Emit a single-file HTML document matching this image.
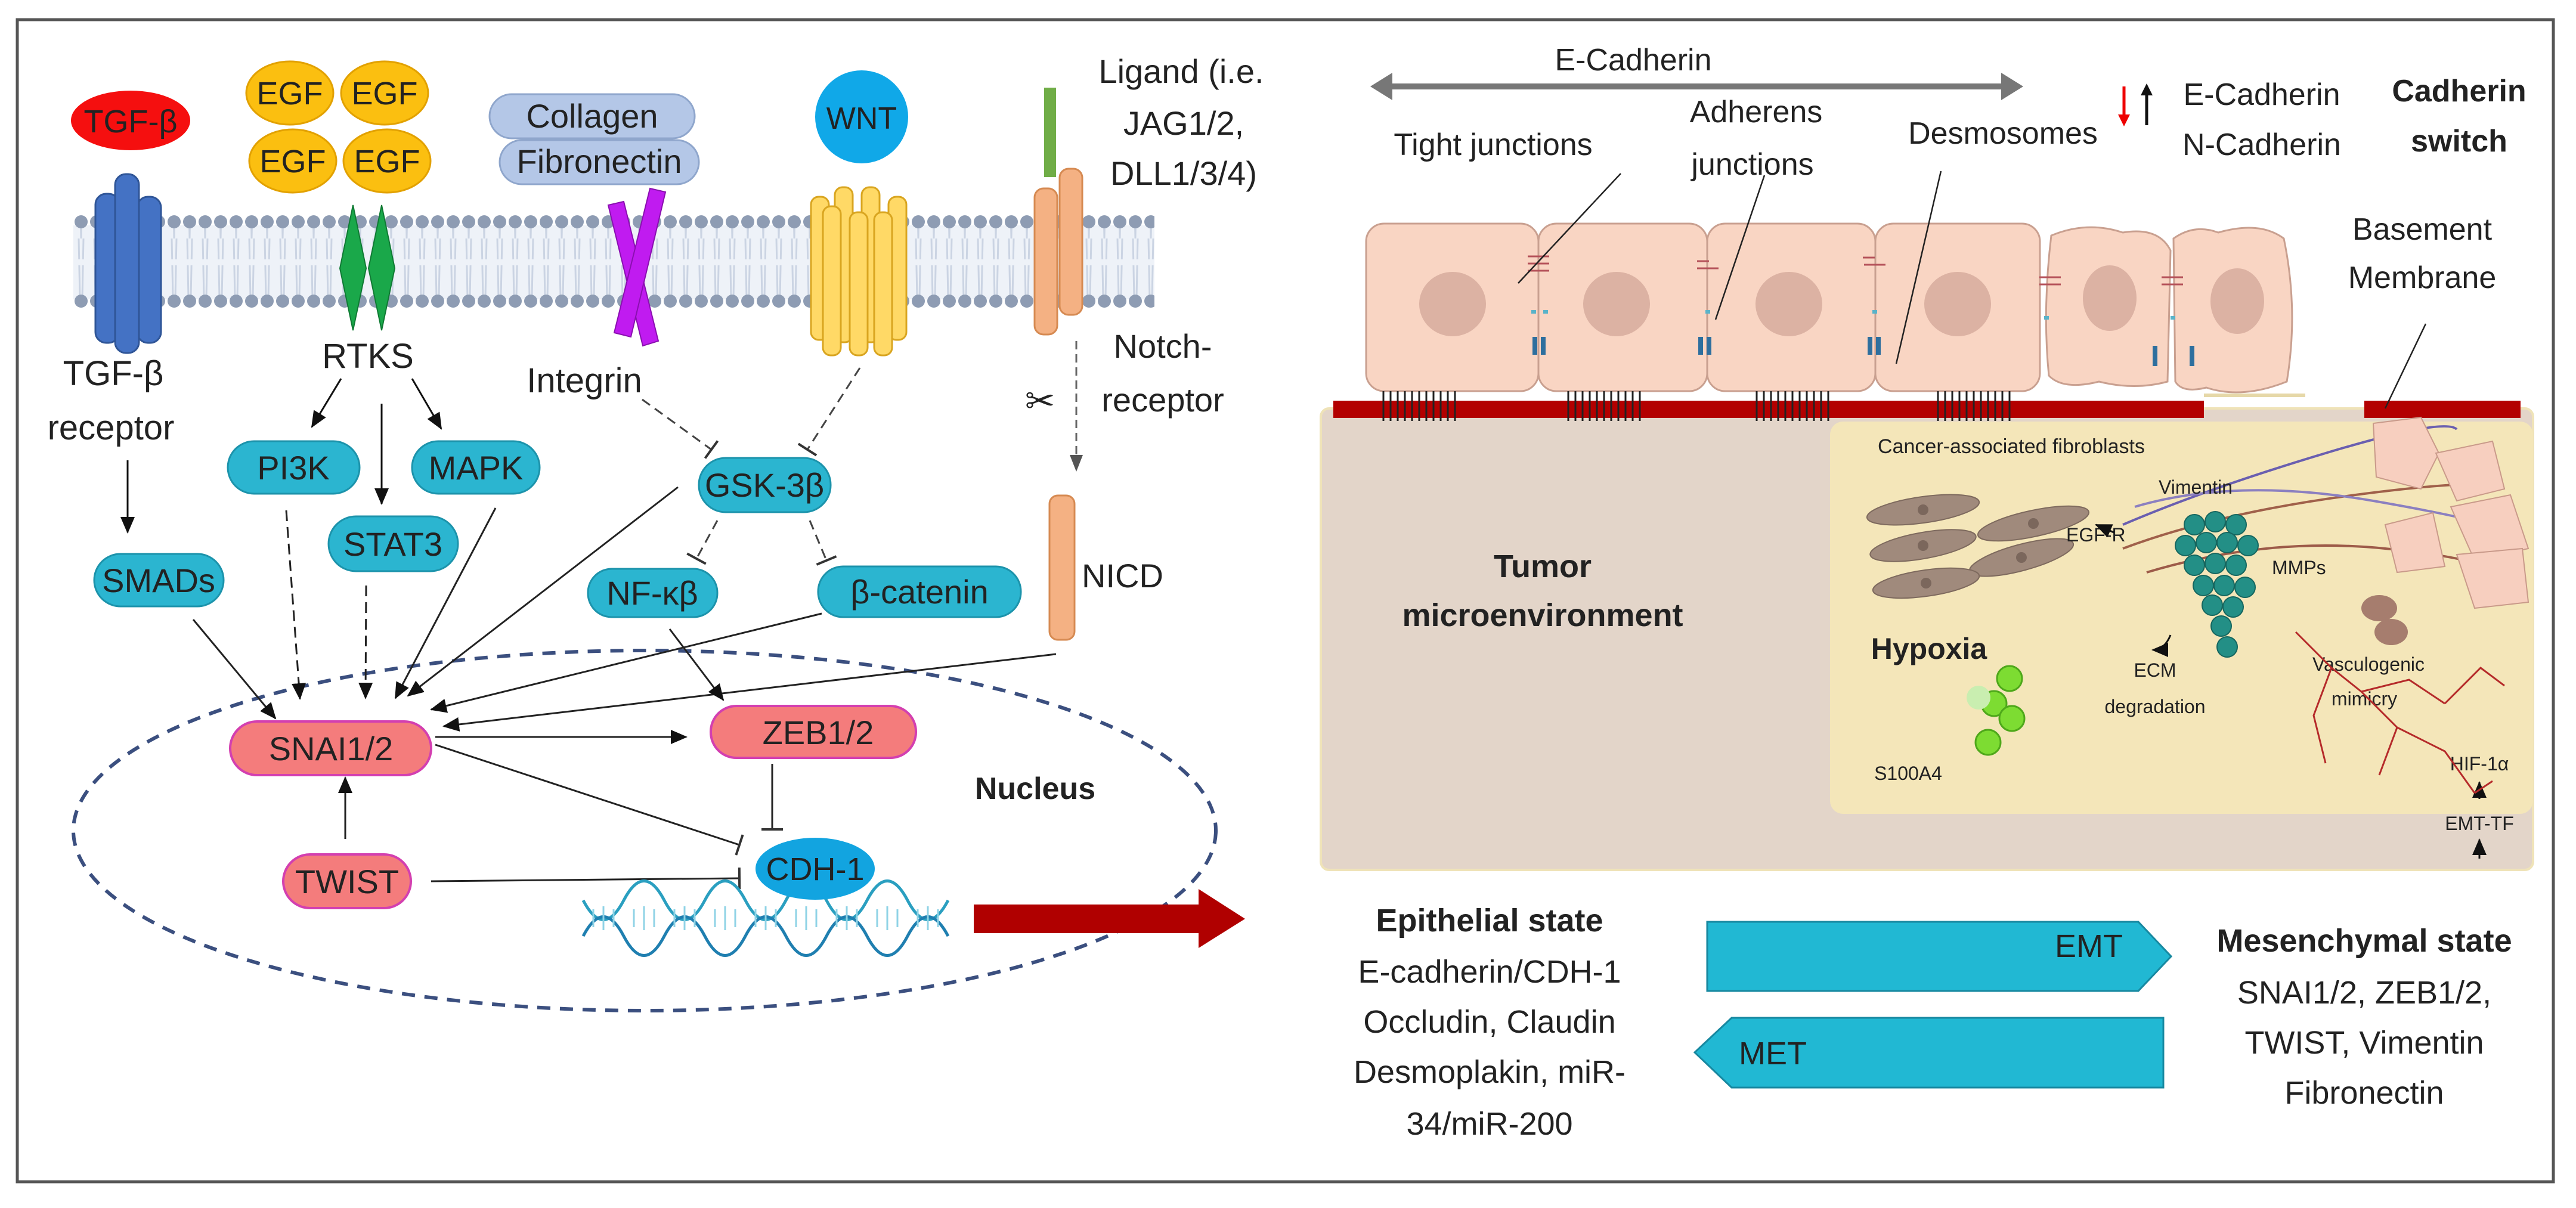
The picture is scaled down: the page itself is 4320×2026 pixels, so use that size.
<!DOCTYPE html>
<html><head><meta charset="utf-8"><style>
html,body{margin:0;padding:0;background:#fff}
svg{display:block}
text{font-family:"Liberation Sans",sans-serif;fill:#222}
</style></head><body>
<svg xmlns="http://www.w3.org/2000/svg" width="4320" height="2026" viewBox="0 0 4320 2026">
<defs>
<marker id="ah" markerUnits="userSpaceOnUse" markerWidth="30" markerHeight="30" refX="26" refY="15" orient="auto"><path d="M0,3 L28,15 L0,27 Z" fill="#111"/></marker>
<marker id="ahg" markerUnits="userSpaceOnUse" markerWidth="30" markerHeight="30" refX="26" refY="15" orient="auto"><path d="M0,4 L28,15 L0,26 Z" fill="#555"/></marker>
<marker id="tb" markerUnits="userSpaceOnUse" markerWidth="8" markerHeight="36" refX="4" refY="18" orient="auto"><rect x="2" y="0" width="4" height="36" fill="#333"/></marker>
<pattern id="beads" x="123" y="0" width="26" height="2026" patternUnits="userSpaceOnUse">
<circle cx="13" cy="372" r="11" fill="#8e9cb3"/>
<circle cx="13" cy="505" r="11" fill="#8e9cb3"/>
</pattern>
<pattern id="tails" x="123" y="0" width="26" height="200" patternUnits="userSpaceOnUse">
<path d="M9,0 L13,200 M17,0 L13,200" stroke="#cbd4e3" stroke-width="3" fill="none"/>
</pattern>
</defs>
<rect x="0" y="0" width="4320" height="2026" fill="#fff"/>
<rect x="29" y="33" width="4253" height="1949" fill="none" stroke="#555" stroke-width="5"/>

<!-- membrane -->
<rect x="123" y="378" width="1813" height="124" fill="#eef2f8"/>
<rect x="123" y="380" width="1813" height="55" fill="url(#tails)"/>
<rect x="123" y="445" width="1813" height="55" fill="url(#tails)"/>
<rect x="123" y="355" width="1813" height="168" fill="url(#beads)"/>

<!-- TGF-beta -->
<ellipse cx="219" cy="202" rx="100" ry="50" fill="#f50f0f"/>
<text x="219" y="222" font-size="54" text-anchor="middle" fill="#5a0000">TGF-β</text>
<g fill="#4472c4" stroke="#2f5597" stroke-width="3">
<rect x="160" y="325" width="40" height="250" rx="18"/>
<rect x="230" y="330" width="40" height="245" rx="18"/>
<rect x="193" y="292" width="40" height="300" rx="18"/>
</g>
<text x="190" y="646" font-size="58" text-anchor="middle">TGF-β</text>
<text x="186" y="737" font-size="58" text-anchor="middle">receptor</text>
<line x1="214" y1="772" x2="214" y2="893" stroke="#111" stroke-width="3" marker-end="url(#ah)"/>

<!-- EGF -->
<g fill="#fbbf10" stroke="#e2a100" stroke-width="3">
<ellipse cx="486" cy="156" rx="73" ry="53"/><ellipse cx="645" cy="156" rx="73" ry="53"/>
<ellipse cx="491" cy="270" rx="73" ry="53"/><ellipse cx="649" cy="270" rx="73" ry="53"/>
</g>
<g font-size="54" text-anchor="middle"><text x="486" y="175">EGF</text><text x="645" y="175">EGF</text><text x="491" y="289">EGF</text><text x="649" y="289">EGF</text></g>
<g fill="#1aa84a" stroke="#0f7a33" stroke-width="2">
<path d="M592,344 L614,450 L592,554 L570,450 Z"/>
<path d="M640,344 L662,450 L640,554 L618,450 Z"/>
</g>
<text x="617" y="617" font-size="58" text-anchor="middle">RTKS</text>
<g stroke="#111" stroke-width="3">
<line x1="572" y1="635" x2="523" y2="716" marker-end="url(#ah)"/>
<line x1="640" y1="677" x2="640" y2="845" marker-end="url(#ah)"/>
<line x1="691" y1="635" x2="740" y2="719" marker-end="url(#ah)"/>
</g>

<!-- Collagen / Fibronectin -->
<rect x="838" y="235" width="334" height="74" rx="37" fill="#b4c7e7" stroke="#8fa6cc" stroke-width="3"/>
<rect x="821" y="158" width="344" height="74" rx="37" fill="#b4c7e7" stroke="#8fa6cc" stroke-width="3"/>
<text x="993" y="214" font-size="56" text-anchor="middle">Collagen</text>
<text x="1005" y="290" font-size="56" text-anchor="middle">Fibronectin</text>
<g stroke="#8a0fb0" stroke-width="2" fill="#c01bf0">
<path d="M1020,344 L1046,338 L1104,572 L1078,580 Z"/>
<path d="M1090,316 L1116,322 L1058,565 L1030,558 Z"/>
</g>
<text x="980" y="658" font-size="58" text-anchor="middle">Integrin</text>

<!-- WNT -->
<circle cx="1445" cy="196" r="78" fill="#10a8e8"/>
<text x="1445" y="216" font-size="52" text-anchor="middle" fill="#112">WNT</text>
<g fill="#ffd966" stroke="#d9a520" stroke-width="3">
<rect x="1360" y="330" width="30" height="240" rx="13"/>
<rect x="1490" y="330" width="30" height="240" rx="13"/>
<rect x="1400" y="314" width="30" height="260" rx="13"/>
<rect x="1445" y="314" width="30" height="260" rx="13"/>
<rect x="1380" y="346" width="30" height="250" rx="13"/>
<rect x="1425" y="356" width="30" height="240" rx="13"/>
<rect x="1466" y="356" width="30" height="240" rx="13"/>
</g>

<!-- Notch -->
<rect x="1751" y="147" width="20" height="150" fill="#70ad47"/>
<g fill="#f4b183" stroke="#d68a52" stroke-width="3">
<rect x="1735" y="316" width="38" height="245" rx="15"/>
<rect x="1777" y="283" width="38" height="245" rx="15"/>
</g>
<g font-size="56" text-anchor="middle">
<text x="1981" y="139">Ligand (i.e.</text>
<text x="1985" y="226">JAG1/2,</text>
<text x="1985" y="310">DLL1/3/4)</text>
<text x="1950" y="600">Notch-</text>
<text x="1950" y="690">receptor</text>
</g>
<line x1="1805" y1="572" x2="1805" y2="789" stroke="#666" stroke-width="3" stroke-dasharray="14,8" marker-end="url(#ahg)"/>
<text x="1744" y="693" font-size="60" text-anchor="middle" fill="#333">✂</text>
<rect x="1760" y="831" width="42" height="242" rx="14" fill="#f4b183" stroke="#d68a52" stroke-width="3"/>
<text x="1814" y="985" font-size="56">NICD</text>

<!-- teal pills -->
<g fill="#2bb5d0" stroke="#1c93ab" stroke-width="3">
<rect x="158" y="929" width="217" height="88" rx="44"/>
<rect x="382" y="740" width="221" height="88" rx="44"/>
<rect x="691" y="740" width="214" height="88" rx="44"/>
<rect x="551" y="866" width="217" height="92" rx="46"/>
<rect x="1172" y="768" width="221" height="91" rx="45"/>
<rect x="986" y="954" width="217" height="81" rx="40"/>
<rect x="1372" y="950" width="340" height="85" rx="42"/>
</g>
<g font-size="56" text-anchor="middle" fill="#111">
<text x="266" y="993">SMADs</text>
<text x="492" y="804">PI3K</text>
<text x="798" y="804">MAPK</text>
<text x="659" y="932">STAT3</text>
<text x="1282" y="833">GSK-3β</text>
<text x="1094" y="1014">NF-κβ</text>
<text x="1542" y="1012">β-catenin</text>
</g>

<!-- dashed inhibitions -->
<g stroke="#444" stroke-width="3" fill="none" stroke-dasharray="16,10" marker-end="url(#tb)">
<line x1="1077" y1="670" x2="1193" y2="754"/>
<line x1="1442" y1="617" x2="1354" y2="754"/>
<line x1="1203" y1="873" x2="1168" y2="937"/>
<line x1="1358" y1="873" x2="1386" y2="940"/>
</g>

<!-- nucleus -->
<ellipse cx="1081" cy="1393" rx="958" ry="302" fill="none" stroke="#3b4f7f" stroke-width="6" stroke-dasharray="22,16"/>
<text x="1736" y="1340" font-size="52" font-weight="bold" text-anchor="middle">Nucleus</text>

<!-- arrows into SNAI -->
<g stroke="#222" stroke-width="3" fill="none">
<line x1="324" y1="1039" x2="462" y2="1205" marker-end="url(#ah)"/>
<line x1="480" y1="856" x2="503" y2="1172" stroke-dasharray="18,10" marker-end="url(#ah)"/>
<line x1="614" y1="982" x2="613" y2="1171" stroke-dasharray="18,10" marker-end="url(#ah)"/>
<line x1="831" y1="852" x2="663" y2="1171" marker-end="url(#ah)"/>
<line x1="1137" y1="817" x2="684" y2="1167" marker-end="url(#ah)"/>
<line x1="1378" y1="1029" x2="723" y2="1190" marker-end="url(#ah)"/>
<line x1="1771" y1="1097" x2="744" y2="1218" marker-end="url(#ah)"/>
<line x1="1123" y1="1055" x2="1213" y2="1174" marker-end="url(#ah)"/>
<line x1="730" y1="1236" x2="1151" y2="1236" marker-end="url(#ah)"/>
<line x1="579" y1="1407" x2="579" y2="1304" marker-end="url(#ah)"/>
<line x1="730" y1="1249" x2="1240" y2="1417" marker-end="url(#tb)"/>
<line x1="1295" y1="1281" x2="1295" y2="1391" marker-end="url(#tb)"/>
<line x1="723" y1="1478" x2="1240" y2="1473" marker-end="url(#tb)"/>
</g>

<!-- pink nodes -->
<g fill="#f47c7c" stroke="#d33fb0" stroke-width="4">
<rect x="386" y="1210" width="337" height="90" rx="45"/>
<rect x="1192" y="1184" width="344" height="87" rx="43"/>
<rect x="475" y="1433" width="214" height="90" rx="45"/>
</g>
<g font-size="56" text-anchor="middle" fill="#222">
<text x="555" y="1275">SNAI1/2</text>
<text x="1372" y="1248">ZEB1/2</text>
<text x="582" y="1498">TWIST</text>
</g>

<!-- DNA -->
<g fill="none" stroke-width="5">
<path d="M978,1510 Q1012,1575 1046,1510 T1114,1510 T1182,1510 T1250,1510 T1318,1510 T1386,1510 T1454,1510 T1522,1510 T1590,1510" stroke="#2a9fc0"/>
<path d="M978,1570 Q1012,1505 1046,1570 T1114,1570 T1182,1570 T1250,1570 T1318,1570 T1386,1570 T1454,1570 T1522,1570 T1590,1570" stroke="#1f7fb0"/>
</g>
<g stroke="#8fd3e6" stroke-width="3">
<path d="M995,1525v30M1012,1520v40M1029,1525v30M1063,1525v30M1080,1520v40M1097,1525v30M1131,1525v30M1148,1520v40M1165,1525v30M1199,1525v30M1216,1520v40M1233,1525v30M1267,1525v30M1284,1520v40M1301,1525v30M1335,1525v30M1352,1520v40M1369,1525v30M1403,1525v30M1420,1520v40M1437,1525v30M1471,1525v30M1488,1520v40M1505,1525v30M1539,1525v30M1556,1520v40M1573,1525v30"/>
</g>
<ellipse cx="1367" cy="1457" rx="100" ry="52" fill="#12a4e0"/>
<text x="1367" y="1476" font-size="54" text-anchor="middle" fill="#111">CDH-1</text>

<!-- red arrow -->
<path d="M1633,1517 L2010,1517 L2010,1491 L2088,1541 L2010,1590 L2010,1565 L1633,1565 Z" fill="#b00000"/>

<!-- ===== RIGHT ===== -->
<line x1="2320" y1="145" x2="3370" y2="145" stroke="#777" stroke-width="10"/>
<path d="M2298,145 L2335,122 L2335,168 Z M3393,145 L3356,122 L3356,168 Z" fill="#777"/>
<g font-size="52" text-anchor="middle" fill="#333">
<text x="2739" y="118">E-Cadherin</text>
<text x="2504" y="260">Tight junctions</text>
<text x="2945" y="205">Adherens</text>
<text x="2939" y="293">junctions</text>
<text x="3359" y="241">Desmosomes</text>
<text x="4062" y="402">Basement</text>
<text x="4062" y="483">Membrane</text>
</g>
<text x="3793" y="176" font-size="52" text-anchor="middle" fill="#d9262c">E-Cadherin</text>
<text x="3793" y="260" font-size="52" text-anchor="middle" fill="#333">N-Cadherin</text>
<text x="4124" y="170" font-size="52" font-weight="bold" text-anchor="middle">Cadherin</text>
<text x="4124" y="254" font-size="52" font-weight="bold" text-anchor="middle">switch</text>
<line x1="3562" y1="145" x2="3562" y2="200" stroke="#e00" stroke-width="5"/><path d="M3552,192 L3572,192 L3562,212 Z" fill="#e00"/>
<line x1="3600" y1="210" x2="3600" y2="155" stroke="#111" stroke-width="5"/><path d="M3590,160 L3610,160 L3600,140 Z" fill="#111"/>

<!-- microenvironment -->
<rect x="2215" y="685" width="2033" height="774" rx="14" fill="#e3d5c9" stroke="#efe3b8" stroke-width="4"/>
<rect x="3069" y="707" width="1179" height="658" rx="22" fill="#f4e6b9"/>
<!-- basement -->
<rect x="2236" y="672" width="1460" height="29" fill="#b30000"/>
<rect x="3965" y="672" width="262" height="29" fill="#b30000"/>
<rect x="3696" y="660" width="170" height="6" fill="#e6d8a8"/>
<!-- cells -->
<g fill="#f9d5c3" stroke="#c9a090" stroke-width="3">
<rect x="2291" y="375" width="289" height="281" rx="30"/>
<rect x="2580" y="375" width="283" height="281" rx="30"/>
<rect x="2863" y="375" width="282" height="281" rx="30"/>
<rect x="3145" y="375" width="276" height="281" rx="30"/>
<path d="M3440,395 Q3500,370 3560,390 Q3620,380 3640,420 L3635,640 Q3580,655 3520,640 Q3460,655 3436,630 Q3425,520 3440,395 Z"/>
<path d="M3645,400 Q3680,375 3720,390 Q3790,370 3830,400 Q3855,520 3835,640 Q3760,670 3700,650 Q3660,660 3648,640 Z"/>
</g>
<g fill="#dcb2a3">
<ellipse cx="2436" cy="510" rx="56" ry="54"/><ellipse cx="2711" cy="510" rx="56" ry="54"/>
<ellipse cx="3000" cy="510" rx="56" ry="54"/><ellipse cx="3283" cy="510" rx="56" ry="54"/>
<ellipse cx="3538" cy="500" rx="45" ry="55"/><ellipse cx="3752" cy="505" rx="45" ry="55"/>
</g>
<!-- junction markers -->
<g stroke="#b5525a" stroke-width="3" fill="none">
<path d="M2562,430 h36 M2562,442 h36 M2562,454 h36 M2866,438 h-20 M2846,450 h36 M3144,432 h-20 M3126,444 h36 M3420,465 h36 M3420,477 h36 M3625,465 h36 M3625,477 h36"/>
</g>
<g fill="#2e6f9e">
<rect x="2570" y="565" width="8" height="30"/><rect x="2584" y="565" width="8" height="30"/>
<rect x="2848" y="565" width="8" height="30"/><rect x="2862" y="565" width="8" height="30"/>
<rect x="3132" y="565" width="8" height="30"/><rect x="3146" y="565" width="8" height="30"/>
<rect x="3610" y="580" width="8" height="34"/><rect x="3672" y="580" width="8" height="34"/>
</g>
<g fill="#5ab3c9"><rect x="2568" y="520" width="8" height="6"/><rect x="2588" y="520" width="8" height="6"/><rect x="2860" y="520" width="8" height="6"/><rect x="3140" y="520" width="8" height="6"/><rect x="3428" y="530" width="8" height="6"/><rect x="3640" y="530" width="8" height="6"/></g>
<g stroke="#222" stroke-width="3">
<path d="M2320,656v50M2332,656v50M2344,656v50M2356,656v50M2368,656v50M2380,656v50M2392,656v50M2404,656v50M2416,656v50M2428,656v50M2440,656v50
M2630,656v50M2642,656v50M2654,656v50M2666,656v50M2678,656v50M2690,656v50M2702,656v50M2714,656v50M2726,656v50M2738,656v50M2750,656v50
M2946,656v50M2958,656v50M2970,656v50M2982,656v50M2994,656v50M3006,656v50M3018,656v50M3030,656v50M3042,656v50M3054,656v50M3066,656v50
M3250,656v50M3262,656v50M3274,656v50M3286,656v50M3298,656v50M3310,656v50M3322,656v50M3334,656v50M3346,656v50M3358,656v50M3370,656v50"/>
</g>
<!-- leader lines -->
<g stroke="#222" stroke-width="2.5">
<line x1="2718" y1="291" x2="2546" y2="475"/>
<line x1="2959" y1="294" x2="2877" y2="536"/>
<line x1="3255" y1="287" x2="3180" y2="610"/>
<line x1="4068" y1="543" x2="4000" y2="685"/>
</g>

<text x="3373" y="760" font-size="34" text-anchor="middle" fill="#333">Cancer-associated fibroblasts</text>
<text x="2587" y="968" font-size="54" font-weight="bold" text-anchor="middle">Tumor</text>
<text x="2587" y="1050" font-size="54" font-weight="bold" text-anchor="middle">microenvironment</text>

<!-- fibroblasts -->
<g fill="#a08a7c" stroke="#7e6a5e" stroke-width="2">
<ellipse cx="3225" cy="855" rx="95" ry="22" transform="rotate(-8 3225 855)"/>
<ellipse cx="3410" cy="878" rx="95" ry="22" transform="rotate(-12 3410 878)"/>
<ellipse cx="3225" cy="915" rx="90" ry="22" transform="rotate(-10 3225 915)"/>
<ellipse cx="3390" cy="935" rx="90" ry="22" transform="rotate(-15 3390 935)"/>
<ellipse cx="3230" cy="978" rx="90" ry="22" transform="rotate(-8 3230 978)"/>
</g>
<g fill="#7b675c"><circle cx="3225" cy="855" r="9"/><circle cx="3410" cy="878" r="9"/><circle cx="3225" cy="915" r="9"/><circle cx="3390" cy="935" r="9"/><circle cx="3230" cy="978" r="9"/></g>
<!-- fibers -->
<g fill="none" stroke-width="4">
<path d="M3560,880 Q3700,820 3900,760 T4120,720" stroke="#6a5fb0"/>
<path d="M3560,920 Q3720,860 3950,830 T4200,820" stroke="#a0604a"/>
<path d="M3580,850 Q3750,800 3980,840 T4220,900" stroke="#8b7fc0"/>
<path d="M3600,960 Q3800,900 4000,920 T4220,980" stroke="#9d5b49"/>
</g>
<!-- pink invading cells -->
<g fill="#f7cfbf" stroke="#c99a8a" stroke-width="2">
<path d="M3980,710 L4060,700 L4090,760 L4060,820 L3985,800 Z"/>
<path d="M4085,760 L4180,740 L4200,820 L4120,840 Z"/>
<path d="M4110,850 L4210,830 L4240,920 L4150,940 Z"/>
<path d="M4000,880 L4080,860 L4100,950 L4020,960 Z"/>
<path d="M4120,930 L4230,920 L4240,1010 L4150,1020 Z"/>
</g>
<g fill="#a67d6e"><ellipse cx="3990" cy="1020" rx="30" ry="22"/><ellipse cx="4010" cy="1060" rx="28" ry="22"/></g>
<!-- teal cluster -->
<g fill="#238f86" stroke="#15665f" stroke-width="2">
<circle cx="3680" cy="880" r="17"/><circle cx="3715" cy="875" r="17"/><circle cx="3750" cy="880" r="17"/>
<circle cx="3665" cy="915" r="17"/><circle cx="3700" cy="910" r="17"/><circle cx="3735" cy="910" r="17"/><circle cx="3770" cy="915" r="17"/>
<circle cx="3680" cy="948" r="17"/><circle cx="3715" cy="945" r="17"/><circle cx="3750" cy="948" r="17"/>
<circle cx="3695" cy="982" r="17"/><circle cx="3730" cy="982" r="17"/><circle cx="3765" cy="985" r="17"/>
<circle cx="3710" cy="1015" r="17"/><circle cx="3745" cy="1018" r="17"/>
<circle cx="3725" cy="1050" r="17"/><circle cx="3735" cy="1085" r="17"/>
</g>
<g font-size="32" fill="#333">
<text x="3620" y="828">Vimentin</text>
<text x="3465" y="908">EGF-R</text>
<text x="3810" y="963">MMPs</text>
<text x="3614" y="1135" text-anchor="middle">ECM</text>
<text x="3614" y="1196" text-anchor="middle">degradation</text>
<text x="3972" y="1125" text-anchor="middle">Vasculogenic</text>
<text x="3965" y="1183" text-anchor="middle">mimicry</text>
<text x="4158" y="1292" text-anchor="middle">HIF-1α</text>
<text x="4158" y="1392" text-anchor="middle">EMT-TF</text>
<text x="3200" y="1308" text-anchor="middle">S100A4</text>
</g>
<text x="3235" y="1105" font-size="50" font-weight="bold" text-anchor="middle">Hypoxia</text>
<path d="M3545,893 L3515,880" stroke="#111" stroke-width="3" marker-end="url(#ah)"/>
<path d="M3640,1065 Q3630,1090 3610,1090" stroke="#111" stroke-width="3" fill="none" marker-end="url(#ah)"/>
<g stroke="#111" stroke-width="3"><line x1="4158" y1="1340" x2="4158" y2="1312" marker-end="url(#ah)"/><line x1="4158" y1="1440" x2="4158" y2="1408" marker-end="url(#ah)"/></g>
<!-- vessels -->
<g stroke="#b52a2a" stroke-width="3" fill="none">
<path d="M3850,1060 L3910,1120 L3960,1160 L4020,1220 L4100,1260 L4150,1330"/>
<path d="M3910,1120 L3880,1200 L3900,1280"/>
<path d="M3960,1160 L4040,1140 L4100,1180"/>
<path d="M4020,1220 L3990,1300"/>
<path d="M4100,1180 L4160,1120 L4200,1150"/>
<path d="M4150,1330 L4180,1310"/>
</g>
<!-- green circles -->
<g fill="#7ddc32" stroke="#4ea81a" stroke-width="3">
<circle cx="3370" cy="1138" r="21"/><circle cx="3344" cy="1180" r="21"/><circle cx="3374" cy="1205" r="21"/><circle cx="3334" cy="1245" r="21"/>
</g>
<circle cx="3318" cy="1170" r="20" fill="#c9eeb0"/>

<!-- EMT / MET -->
<path d="M2863,1546 L3586,1546 L3641,1604 L3586,1662 L2863,1662 Z" fill="#21b8d3" stroke="#1788a0" stroke-width="3"/>
<path d="M2904,1707 L3628,1707 L3628,1824 L2904,1824 L2842,1765 Z" fill="#21b8d3" stroke="#1788a0" stroke-width="3"/>
<text x="3503" y="1605" font-size="54" text-anchor="middle">EMT</text>
<text x="2973" y="1785" font-size="54" text-anchor="middle">MET</text>
<g font-size="54" text-anchor="middle" fill="#333">
<text x="2498" y="1562" font-weight="bold" fill="#111">Epithelial state</text>
<text x="2498" y="1648">E-cadherin/CDH-1</text>
<text x="2498" y="1732">Occludin, Claudin</text>
<text x="2498" y="1816">Desmoplakin, miR-</text>
<text x="2498" y="1903">34/miR-200</text>
<text x="3965" y="1596" font-weight="bold" fill="#111">Mesenchymal state</text>
<text x="3965" y="1683">SNAI1/2, ZEB1/2,</text>
<text x="3965" y="1767">TWIST, Vimentin</text>
<text x="3965" y="1851">Fibronectin</text>
</g>
</svg>
</body></html>
